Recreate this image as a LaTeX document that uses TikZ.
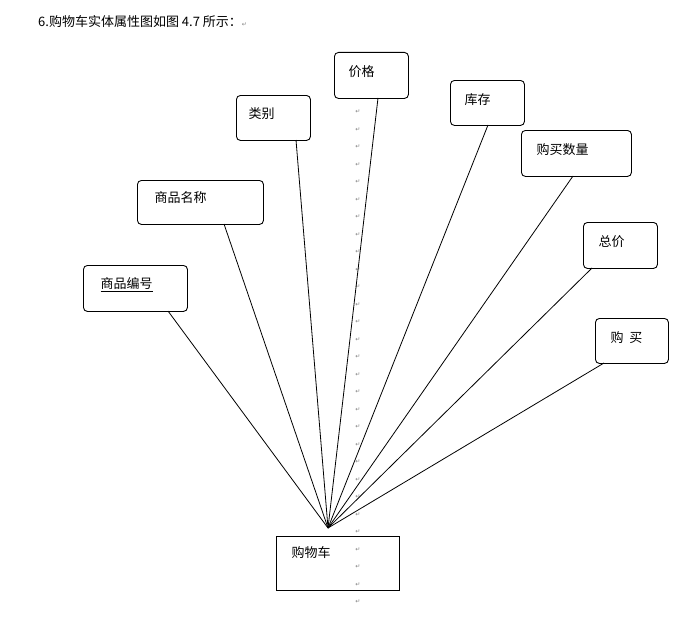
\documentclass[tikz,border=0pt]{standalone}
\usepackage{fontspec}
\setmainfont{Noto Sans CJK SC}
\newfontfamily\symf{DejaVu Sans}
\begin{document}
\begin{tikzpicture}[x=1pt,y=-1pt,
  attr/.style={draw,rounded corners=4pt,line width=0.9pt,font=\fontsize{13}{15}\selectfont,anchor=north west,inner sep=0pt,align=center},
  ent/.style={draw,line width=0.9pt,font=\fontsize{13}{15}\selectfont,inner sep=0pt},
  mk/.style={font=\symf\fontsize{6}{7}\selectfont,text=gray,inner sep=0pt},
  con/.style={line width=0.8pt}]
\useasboundingbox (0,0) rectangle (685,618);
\node[anchor=west,font=\fontsize{13}{15}\selectfont,inner sep=0pt] (title) at (38,22) {6.购物车实体属性图如图 4.7 所示：{\symf\fontsize{6}{7}\selectfont\color{gray}↵}};
\foreach \i in {0,...,28} \node[mk] (m\i) at (358,112+\i*17.5) {↵};
\node[attr,minimum width=74,minimum height=46] (jg) at (334,52) {};
\node[anchor=west,font=\fontsize{13}{15}\selectfont] at (345,72) {价格};
\node[attr,minimum width=74,minimum height=45] (lb) at (236,95) {};
\node[anchor=west,font=\fontsize{13}{15}\selectfont] at (245,114) {类别};
\node[attr,minimum width=74,minimum height=45] (kc) at (450,80) {};
\node[anchor=west,font=\fontsize{13}{15}\selectfont] at (461,100) {库存};
\node[attr,minimum width=110,minimum height=46] (gmsl) at (521,130) {};
\node[anchor=west,font=\fontsize{13}{15}\selectfont] at (533,150) {购买数量};
\node[attr,minimum width=126,minimum height=44] (spmc) at (137,180) {};
\node[anchor=west,font=\fontsize{13}{15}\selectfont] at (151,198) {商品名称};
\node[attr,minimum width=74,minimum height=46] (zj) at (583,222) {};
\node[anchor=west,font=\fontsize{13}{15}\selectfont] at (595,242) {总价};
\node[attr,minimum width=104,minimum height=46] (spbh) at (83,265) {};
\node[anchor=west,font=\fontsize{13}{15}\selectfont] at (97,285) {\underline{商品编号}};
\node[attr,minimum width=73,minimum height=45] (gm) at (595,318) {};
\node[anchor=west,font=\fontsize{13}{15}\selectfont] at (607,338) {购\ \ 买};
\node[ent,minimum width=123,minimum height=54,anchor=north west] (gwc) at (276,536) {};
\node[anchor=west,font=\fontsize{13}{15}\selectfont] at (288,553) {购物车};
\coordinate (c) at (328,528);
\draw[con] (c) -- (378,98);
\draw[con] (c) -- (296,140);
\draw[con] (c) -- (488,125);
\draw[con] (c) -- (573,176);
\draw[con] (c) -- (224,224);
\draw[con] (c) -- (592,268);
\draw[con] (c) -- (168,311);
\draw[con] (c) -- (604,363);
\end{tikzpicture}
\end{document}
